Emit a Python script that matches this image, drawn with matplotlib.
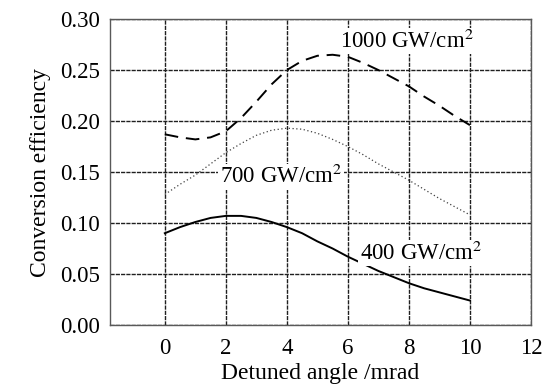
import numpy as np
import matplotlib
matplotlib.use("Agg")
import matplotlib.pyplot as plt

plt.rcParams['font.family'] = ['Liberation Serif', 'DejaVu Serif']
plt.rcParams['mathtext.fontset'] = 'stix'

# ---------------- datos ----------------
angulo = [0, 0.5, 1, 1.5, 2, 2.5, 3, 3.5, 4, 4.5, 5, 5.5, 6, 6.5, 7, 7.5, 8, 8.5, 9, 9.5, 10]

ef_1000 = [0.187, 0.184, 0.182, 0.184, 0.190, 0.203, 0.219, 0.236, 0.250, 0.259, 0.264,
           0.265, 0.263, 0.257, 0.250, 0.242, 0.234, 0.224, 0.215, 0.205, 0.196]
ef_700 = [0.128, 0.138, 0.147, 0.158, 0.169, 0.178, 0.186, 0.191, 0.193, 0.192, 0.188,
          0.182, 0.175, 0.167, 0.158, 0.150, 0.142, 0.133, 0.124, 0.116, 0.108]
ef_400 = [0.090, 0.096, 0.101, 0.105, 0.107, 0.107, 0.105, 0.101, 0.096, 0.090, 0.082,
          0.075, 0.067, 0.060, 0.053, 0.047, 0.041, 0.036, 0.032, 0.028, 0.024]

xticks = [0, 2, 4, 6, 8, 10, 12]
yticks = [0.00, 0.05, 0.10, 0.15, 0.20, 0.25, 0.30]

# ---------------- figura ----------------
fig = plt.figure(figsize=(5.44, 3.89), dpi=100)
ax = fig.add_axes([0.202, 0.1645, 0.774, 0.7865])

ax.plot(angulo, ef_1000, color='black', lw=1.4, dashes=(7, 4), zorder=3)
ax.plot(angulo, ef_700, color='0.25', lw=0.9, linestyle=(0, (1, 2)), zorder=3)
ax.plot(angulo, ef_400, color='black', lw=1.4, zorder=3)

ax.set_xlim(-1.8, 12)
ax.set_ylim(0, 0.30)
ax.set_xticks(xticks)
ax.set_yticks(yticks)
ax.set_yticklabels([f"{v:.2f}" for v in yticks])
ax.tick_params(length=0, labelsize=16.5)
ax.tick_params(axis='x', pad=9)
ax.tick_params(axis='y', pad=7)

ax.grid(True, color='0.12', lw=1.0, linestyle=(0, (3, 0.8)))
for s in ax.spines.values():
    s.set_linewidth(1.0)
    s.set_color('0.35')

ax.set_xlabel("Detuned angle /mrad", fontsize=17, labelpad=3)
ax.set_ylabel("Conversion efficiency", fontsize=17, labelpad=7)

caja = dict(facecolor='white', edgecolor='none', pad=1)
ax.text(5.74, 0.2716, "1000 GW/cm$^{2}$", fontsize=16.5, bbox=caja, zorder=4)
ax.text(1.8, 0.139, "700 GW/cm$^{2}$", fontsize=16.5, bbox=caja, zorder=2.5)
ax.text(6.39, 0.0637, "400 GW/cm$^{2}$", fontsize=16.5, bbox=caja, zorder=4)

fig.savefig("out.png", dpi=100)
